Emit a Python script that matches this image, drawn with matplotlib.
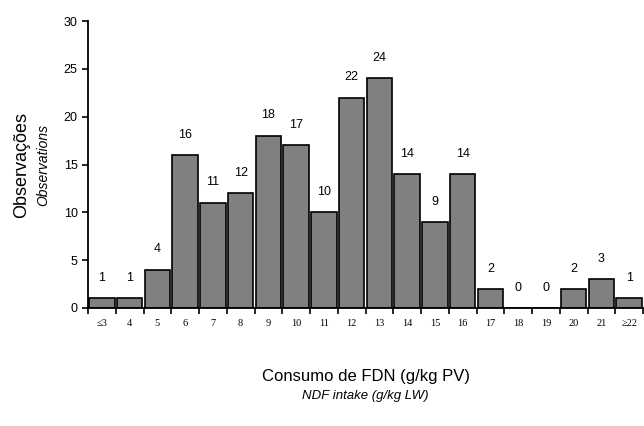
import matplotlib.pyplot as plt

categories = ['≤3'] + [str(i) for i in range(4, 22)] + ['≥22']
counts = [1, 1, 4, 16, 11, 12, 18, 17, 10, 22, 24, 14, 9, 14, 2, 0, 0, 2, 3, 1]
y_ticks = [0, 5, 10, 15, 20, 25, 30]

plt.rcParams['font.family'] = ['Liberation Sans', 'DejaVu Sans']

fig = plt.figure(figsize=(6.44, 4.26), dpi=100)
ax = fig.add_axes([88/644, 1-308/426, 555/644, 287/426])

x = list(range(len(categories)))
ax.bar(x, counts, width=0.92, color='#808080', edgecolor='black', linewidth=1.2)
for xi, c in zip(x, counts):
    ax.text(xi, c + 1.5, str(c), ha='center', va='bottom', fontsize=9)

ax.set_xlim(-0.5, len(categories) - 0.5)
ax.set_ylim(0, 30)
ax.set_yticks(y_ticks)
ax.tick_params(axis='y', labelsize=9, direction='out', length=4, width=1.2)

# tick marks sit between the bars, labels sit under them
ax.set_xticks([i + 0.5 for i in range(-1, len(categories))], minor=False)
ax.set_xticklabels([])
ax.tick_params(axis='x', direction='out', length=4, width=1.2)
ax.set_xticks(x, minor=True)
ax.set_xticklabels(categories, minor=True, fontsize=7.5, family=['Liberation Serif', 'DejaVu Serif'])
ax.tick_params(axis='x', which='minor', length=0, pad=8)

for s in ['top', 'right']:
    ax.spines[s].set_visible(False)
ax.spines['left'].set_linewidth(1.3)
ax.spines['bottom'].set_linewidth(1.3)

fig.text(0.5 * (88 + 643) / 644, 1 - 377/426, 'Consumo de FDN (g/kg PV)', ha='center', va='center', fontsize=12)
fig.text(0.5 * (88 + 643) / 644, 1 - 396/426, 'NDF intake (g/kg LW)', ha='center', va='center', fontsize=9.5, style='italic')
fig.text(22/644, 1 - 165/426, 'Observações', rotation=90, ha='center', va='center', fontsize=13)
fig.text(43/644, 1 - 165/426, 'Observations', rotation=90, ha='center', va='center', fontsize=10, style='italic')

plt.savefig('out.png', dpi=100)
